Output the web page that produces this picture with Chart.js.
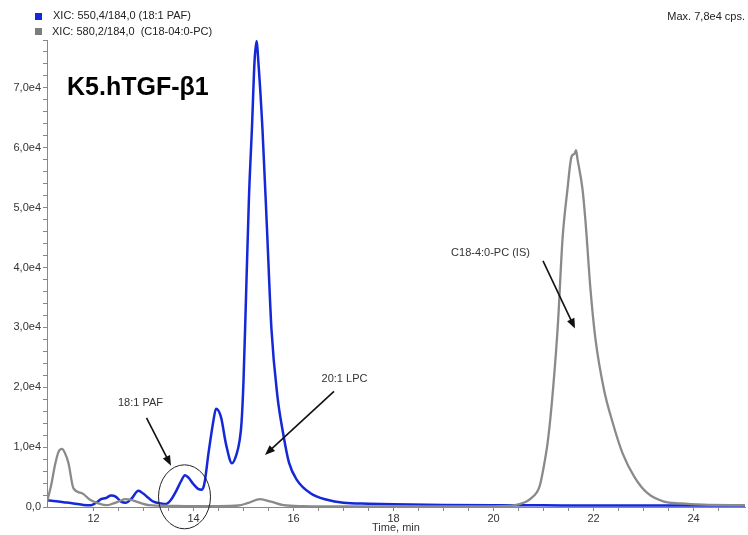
<!DOCTYPE html>
<html>
<head>
<meta charset="utf-8">
<script src="https://cdn.jsdelivr.net/npm/chart.js@4/dist/chart.umd.min.js"></script>
<style>
  body { margin: 0; background: #fff; font-family: "Liberation Sans", Arial, sans-serif; }
  #wrap { position: relative; width: 748px; height: 535px; }
  canvas { position: absolute; left: 0; top: 0; }
  .lg { position: absolute; font-size: 11px; color: #222; white-space: pre; }
  .sq { position: absolute; width: 7px; height: 7px; }
  #title { position: absolute; left: 67px; top: 72px; font-size: 25px; font-weight: bold; color: #000; }
</style>
</head>
<body>
<div id="wrap">
  <canvas id="c" width="748" height="535"></canvas>
  <div class="sq" style="left:35px;top:13px;background:#1428d8"></div>
  <div class="lg" style="left:53px;top:9px">XIC: 550,4/184,0 (18:1 PAF)</div>
  <div class="sq" style="left:35px;top:28px;background:#7c7c7c"></div>
  <div class="lg" style="left:52px;top:25px">XIC: 580,2/184,0  (C18-04:0-PC)</div>
  <div class="lg" style="right:3px;top:10px">Max. 7,8e4 cps.</div>
  <div id="title">K5.hTGF-β1</div>
</div>
<script>
// ── DATA ──
const blueT = [11.07,11.2,11.4,11.6,11.8,11.95,12.05,12.15,12.25,12.35,12.45,12.55,12.65,12.75,12.9,13.0,13.1,13.2,13.35,13.45,13.55,13.65,13.75,13.83,13.9,14.0,14.1,14.17,14.22,14.3,14.4,14.45,14.55,14.65,14.77,14.86,14.92,14.96,15.0,15.05,15.11,15.17,15.22,15.26,15.3,15.38,15.47,15.56,15.68,15.78,15.91,16.07,16.34,16.67,17.0,17.5,18,19,20,21,22,23,24,25.03];
const blueV = [1100,1000,800,600,350,300,700,1300,1500,1900,1700,900,700,1300,2700,2200,1500,900,600,500,1200,2600,4300,5300,4900,3800,3000,2900,4000,9000,14500,16400,15000,10500,7300,8800,11000,14000,21000,35000,51900,63500,74300,77800,74000,63000,46400,29600,18400,12900,7400,4500,2300,1200,700,550,450,350,300,280,250,250,250,250];

const grayT = [11.07,11.15,11.23,11.3,11.37,11.43,11.5,11.6,11.77,11.93,12.1,12.26,12.4,12.53,12.63,12.75,12.86,13.12,13.5,14,14.5,14.9,15.1,15.33,15.55,15.8,16.2,17,18,19,20,20.43,20.6,20.75,20.92,21.0,21.09,21.19,21.29,21.38,21.48,21.56,21.62,21.65,21.68,21.78,21.84,21.94,22.04,22.21,22.38,22.58,22.82,23.08,23.41,23.74,24.2,25.03];
const grayV = [900,3500,7000,9200,9700,9000,7300,3100,2300,1200,600,300,600,1000,1300,1200,900,300,200,150,150,250,700,1300,900,300,150,100,100,80,100,300,700,1450,3400,6500,11200,19600,30800,44700,53100,58500,59000,59600,58100,53100,47700,36300,28000,19600,14200,9000,5000,2300,900,600,400,300];

const xMin = 11.07, xMax = 25.03, yMax = 78000;
const xLabelEvery = 2, yLabelEvery = 10000;

// annotations in data units
const notes = [
  { text: '18:1 PAF', at: [12.94, 17400], from: [13.06, 14900], to: [13.55, 6900] },
  { text: '20:1 LPC', at: [17.02, 21400], from: [16.81, 19300], to: [15.43, 8700] },
  { text: 'C18-4:0-PC (IS)', at: [19.94, 42400], from: [20.99, 41100], to: [21.63, 29800] },
];
const ring = { at: [13.82, 1700], rx: 26, ry: 32 };

const pts = (t, v) => t.map((x, i) => ({ x, y: v[i] }));

// ── ANNOTATION PLUGIN ──
const notesPlugin = {
  id: 'notes',
  afterDraw(chart) {
    const { ctx, scales: { x, y } } = chart;
    const px = p => [x.getPixelForValue(p[0]), y.getPixelForValue(p[1])];
    ctx.save();
    ctx.font = '11px "Liberation Sans", Arial, sans-serif';
    ctx.fillStyle = '#333';
    ctx.textAlign = 'center';
    ctx.textBaseline = 'middle';
    notes.forEach(n => {
      const [tx, ty] = px(n.at);
      ctx.fillText(n.text, tx, ty);
      const [x1, y1] = px(n.from), [x2, y2] = px(n.to);
      const a = Math.atan2(y2 - y1, x2 - x1);
      ctx.strokeStyle = '#111';
      ctx.lineWidth = 1.6;
      ctx.beginPath();
      ctx.moveTo(x1, y1);
      ctx.lineTo(x2 - 6 * Math.cos(a), y2 - 6 * Math.sin(a));
      ctx.stroke();
      ctx.fillStyle = '#111';
      ctx.beginPath();
      ctx.moveTo(x2, y2);
      ctx.lineTo(x2 - 10 * Math.cos(a) + 4 * Math.sin(a), y2 - 10 * Math.sin(a) - 4 * Math.cos(a));
      ctx.lineTo(x2 - 10 * Math.cos(a) - 4 * Math.sin(a), y2 - 10 * Math.sin(a) + 4 * Math.cos(a));
      ctx.closePath();
      ctx.fill();
      ctx.fillStyle = '#333';
    });
    const [cx, cy] = px(ring.at);
    ctx.strokeStyle = '#222';
    ctx.lineWidth = 1;
    ctx.beginPath();
    ctx.ellipse(cx, cy, ring.rx, ring.ry, 0, 0, Math.PI * 2);
    ctx.stroke();
    ctx.restore();
  }
};

const tc = '#333', ac = '#888';
const fnt = { family: '"Liberation Sans", Arial, sans-serif', size: 11 };

new Chart(document.getElementById('c'), {
  type: 'line',
  data: {
    datasets: [
      { data: pts(grayT, grayV), borderColor: '#8a8a8a', borderWidth: 2.3, pointRadius: 0, fill: false, cubicInterpolationMode: 'monotone' },
      { data: pts(blueT, blueV), borderColor: '#1428d8', borderWidth: 2.5, pointRadius: 0, fill: false, cubicInterpolationMode: 'monotone' }
    ]
  },
  options: {
    responsive: false,
    animation: false,
    layout: { padding: { top: 40, right: 3, left: 0, bottom: 0 } },
    plugins: { legend: { display: false }, tooltip: { enabled: false } },
    scales: {
      x: {
        type: 'linear', min: xMin, max: xMax,
        afterBuildTicks: s => { s.ticks = s.ticks.filter(t => Math.abs(t.value * 2 - Math.round(t.value * 2)) < 1e-6); },
        afterFit: s => { s.height = 28; },
        grid: { drawOnChartArea: false, tickLength: 4, color: ac },
        border: { color: ac },
        ticks: { stepSize: 0.5, autoSkip: false, maxRotation: 0, color: tc, font: fnt, padding: 1,
          callback: v => (Math.abs(v % xLabelEvery) < 1e-6 ? v : '') },
        title: { display: true, text: 'Time, min', color: tc, font: fnt, padding: { top: -3, bottom: 0 } }
      },
      y: {
        min: 0, max: yMax,
        afterFit: s => { s.width = 47; },
        grid: { drawOnChartArea: false, tickLength: 4, color: ac },
        border: { color: ac },
        ticks: { stepSize: 2000, autoSkip: false, color: tc, font: fnt, padding: 2,
          callback: v => (v % yLabelEvery === 0 ? (v / 10000).toFixed(1).replace('.', ',') + (v ? 'e4' : '') : '') }
      }
    }
  },
  plugins: [notesPlugin]
});
</script>
</body>
</html>
